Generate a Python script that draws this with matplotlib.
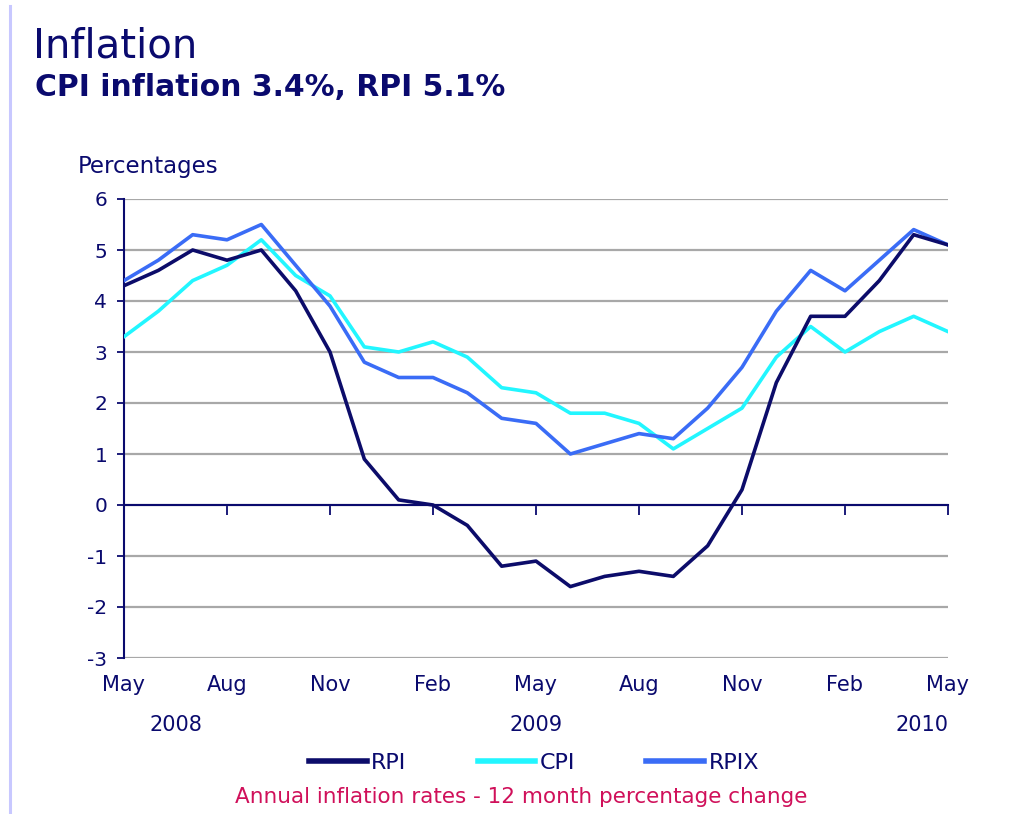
import numpy as np
import matplotlib
matplotlib.use("Agg")
import matplotlib.pyplot as plt
from matplotlib.lines import Line2D
import matplotlib.transforms as mtransforms

plt.rcParams["axes.unicode_minus"] = False

# Monthly annual rates, May 2008 - May 2010
rpi = [4.3, 4.6, 5.0, 4.8, 5.0, 4.2, 3.0, 0.9, 0.1, 0.0, -0.4, -1.2, -1.1,
       -1.6, -1.4, -1.3, -1.4, -0.8, 0.3, 2.4, 3.7, 3.7, 4.4, 5.3, 5.1]
cpi = [3.3, 3.8, 4.4, 4.7, 5.2, 4.5, 4.1, 3.1, 3.0, 3.2, 2.9, 2.3, 2.2,
       1.8, 1.8, 1.6, 1.1, 1.5, 1.9, 2.9, 3.5, 3.0, 3.4, 3.7, 3.4]
rpix = [4.4, 4.8, 5.3, 5.2, 5.5, 4.7, 3.9, 2.8, 2.5, 2.5, 2.2, 1.7, 1.6,
        1.0, 1.2, 1.4, 1.3, 1.9, 2.7, 3.8, 4.6, 4.2, 4.8, 5.4, 5.1]

tick_labels = ["May", "Aug", "Nov", "Feb", "May", "Aug", "Nov", "Feb", "May"]
years = ["2008", "2009", "2010"]
year_pos = [1.5, 12, 23.25]

navy = "#0a0a6e"
months = np.arange(len(rpi))

fig = plt.figure(figsize=(10.21, 8.14), dpi=100)
ax = fig.add_axes([124 / 1021, 1 - 658 / 814, (948 - 124) / 1021, (658 - 199) / 814])

ax.plot(months, rpi, color="#0c0c6a", lw=2.6, label="RPI", zorder=4)
ax.plot(months, cpi, color="#22f6ff", lw=2.6, label="CPI", zorder=3)
ax.plot(months, rpix, color="#3a6cf6", lw=2.6, label="RPIX", zorder=3)

ax.set_xlim(0, 24)
ax.set_ylim(-3, 6)
ax.set_yticks(range(-3, 7))
ax.yaxis.grid(True, color="#a8a8a8", lw=1.6)
ax.set_axisbelow(True)
for s in ["top", "right"]:
    ax.spines[s].set_visible(False)
ax.spines["left"].set_color(navy)
ax.spines["left"].set_linewidth(1.5)
ax.spines["bottom"].set_position(("data", 0))
ax.spines["bottom"].set_color(navy)
ax.spines["bottom"].set_linewidth(1.5)
ax.spines["bottom"].set_zorder(2.5)

ax.set_xticks(range(0, 25, 3))
ax.tick_params(axis="x", direction="out", length=7, width=1.3, color=navy, labelbottom=False)
ax.tick_params(axis="y", direction="out", length=5, width=1.3, color=navy,
               labelcolor=navy, labelsize=14.5, pad=7)

sec = ax.secondary_xaxis("bottom")
sec.set_xticks(range(0, 25, 3))
sec.set_xticklabels(tick_labels)
sec.tick_params(length=0, pad=12, labelsize=15, labelcolor=navy)
sec.spines["bottom"].set_visible(False)

trans = mtransforms.blended_transform_factory(ax.transData, fig.transFigure)
for y, p in zip(years, year_pos):
    ax.text(p, 1 - 725 / 814, y, transform=trans, ha="center", va="center",
            fontsize=15, color=navy)

fig.text(33 / 1021, 1 - 47 / 814, "Inflation", fontsize=29, color=navy, va="center")
fig.text(35 / 1021, 1 - 88 / 814, "CPI inflation 3.4%, RPI 5.1%", fontsize=21.5,
         fontweight="bold", color=navy, va="center")
fig.text(78 / 1021, 1 - 166 / 814, "Percentages", fontsize=16.5, color=navy, va="center")

leg = ax.legend(loc="center", bbox_to_anchor=(534 / 1021, 1 - 763 / 814), bbox_transform=fig.transFigure,
                ncol=3, frameon=False, fontsize=16, handlelength=2.6, handletextpad=0.2,
                columnspacing=3.2, labelcolor=navy)
for h in leg.get_lines():
    h.set_linewidth(4)

fig.text(521 / 1021, 1 - 797 / 814, "Annual inflation rates - 12 month percentage change",
         fontsize=15.5, color="#d0105a", ha="center", va="center")

# left border line
fig.add_artist(Line2D([10 / 1021, 10 / 1021], [0, 1 - 6 / 814], color="#c8c8ff", lw=2.2))

fig.savefig("out.png", dpi=100, facecolor="white")
